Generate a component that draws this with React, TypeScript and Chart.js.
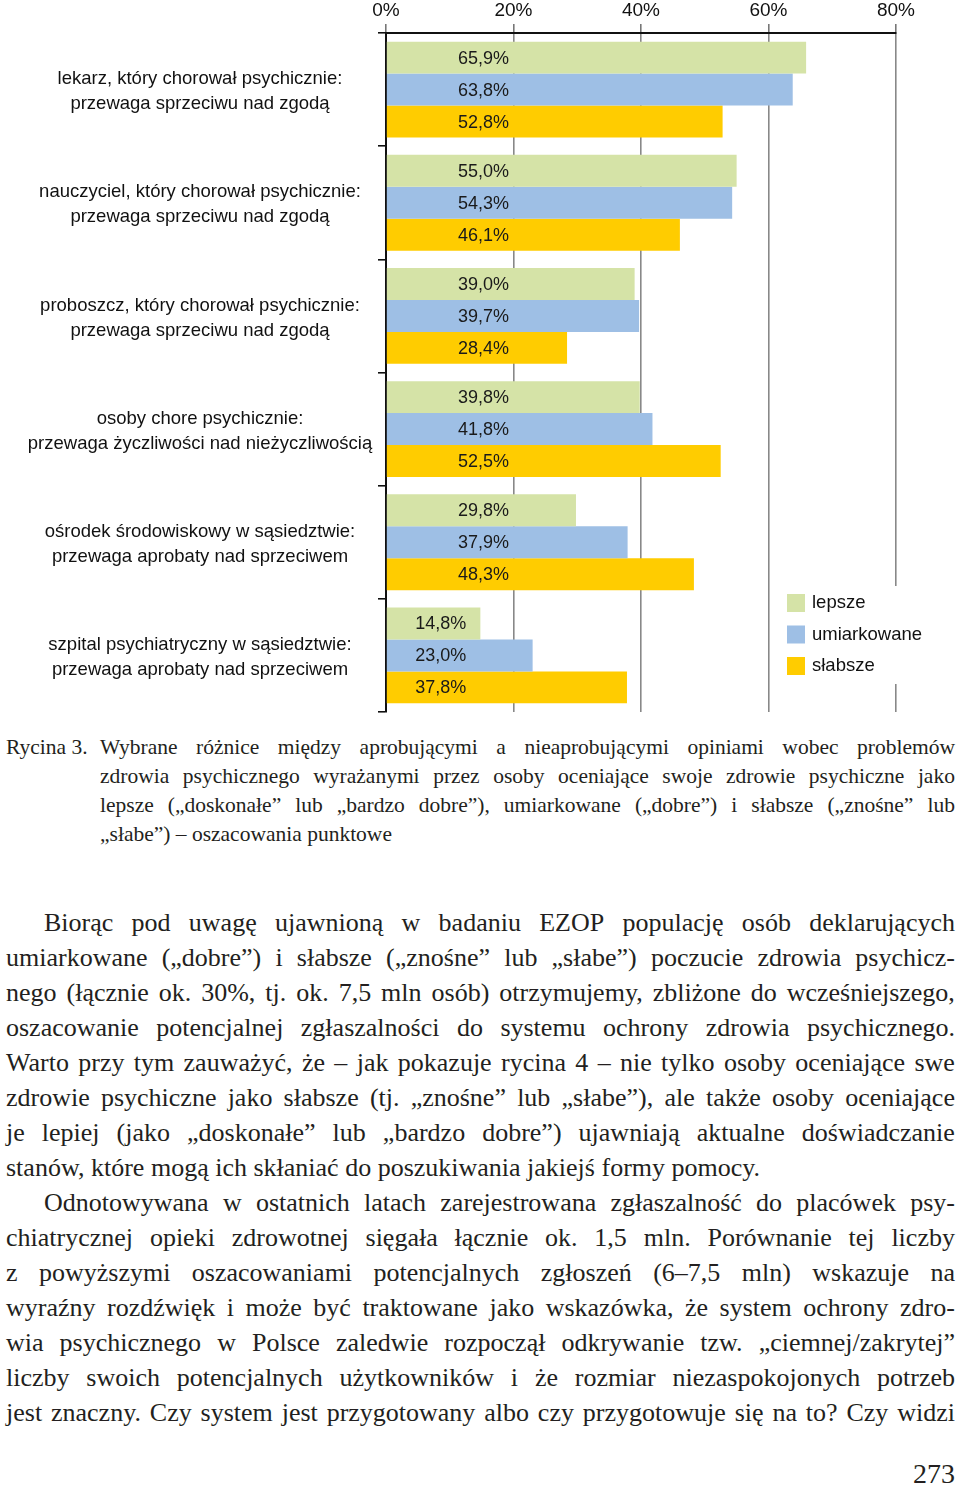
import React, { useEffect, useLayoutEffect, useRef } from "react";
import { Chart, registerables } from "chart.js";

Chart.register(...registerables);

// ---------- data ----------
const categoryLines: string[][] = [
  ["lekarz, który chorował psychicznie:", "przewaga sprzeciwu nad zgodą"],
  ["nauczyciel, który chorował psychicznie:", "przewaga sprzeciwu nad zgodą"],
  ["proboszcz, który chorował psychicznie:", "przewaga sprzeciwu nad zgodą"],
  ["osoby chore psychicznie:", "przewaga życzliwości nad nieżyczliwością"],
  ["ośrodek środowiskowy w sąsiedztwie:", "przewaga aprobaty nad sprzeciwem"],
  ["szpital psychiatryczny w sąsiedztwie:", "przewaga aprobaty nad sprzeciwem"],
];
const seriesNames = ["lepsze", "umiarkowane", "słabsze"];
const lepsze = [65.9, 55.0, 39.0, 39.8, 29.8, 14.8];
const umiarkowane = [63.8, 54.3, 39.7, 41.8, 37.9, 23.0];
const slabsze = [52.8, 46.1, 28.4, 52.5, 48.3, 37.8];
const xTickValues = [0, 20, 40, 60, 80];

const captionLabel = "Rycina 3.";
const captionLines = [
  "Wybrane różnice między aprobującymi a nieaprobującymi opiniami wobec problemów",
  "zdrowia psychicznego wyrażanymi przez osoby oceniające swoje zdrowie psychiczne jako",
  "lepsze („doskonałe” lub „bardzo dobre”), umiarkowane („dobre”) i słabsze („znośne” lub",
  "„słabe”) – oszacowania punktowe",
];
const bodyLines = [
  "Biorąc pod uwagę ujawnioną w badaniu EZOP populację osób deklarujących",
  "umiarkowane („dobre”) i słabsze („znośne” lub „słabe”) poczucie zdrowia psychicz-",
  "nego (łącznie ok. 30%, tj. ok. 7,5 mln osób) otrzymujemy, zbliżone do wcześniejszego,",
  "oszacowanie potencjalnej zgłaszalności do systemu ochrony zdrowia psychicznego.",
  "Warto przy tym zauważyć, że – jak pokazuje rycina 4 – nie tylko osoby oceniające swe",
  "zdrowie psychiczne jako słabsze (tj. „znośne” lub „słabe”), ale także osoby oceniające",
  "je lepiej (jako „doskonałe” lub „bardzo dobre”) ujawniają aktualne doświadczanie",
  "stanów, które mogą ich skłaniać do poszukiwania jakiejś formy pomocy.",
  "Odnotowywana w ostatnich latach zarejestrowana zgłaszalność do placówek psy-",
  "chiatrycznej opieki zdrowotnej sięgała łącznie ok. 1,5 mln. Porównanie tej liczby",
  "z powyższymi oszacowaniami potencjalnych zgłoszeń (6–7,5 mln) wskazuje na",
  "wyraźny rozdźwięk i może być traktowane jako wskazówka, że system ochrony zdro-",
  "wia psychicznego w Polsce zaledwie rozpoczął odkrywanie tzw. „ciemnej/zakrytej”",
  "liczby swoich potencjalnych użytkowników i że rozmiar niezaspokojonych potrzeb",
  "jest znaczny. Czy system jest przygotowany albo czy przygotowuje się na to? Czy widzi",
];
const bodyIndented = [0, 8];
const bodyLastLines = [7];
const pageNumber = "273";

// ---------- styles ----------
const COLORS = ["#d5e3a7", "#9ebfe5", "#ffcc00"];
const SANS = "'Liberation Sans', Arial, sans-serif";
const SERIF = "'Liberation Serif', 'Times New Roman', serif";
const TEXT = "#231f20";

const fmt = (v: number) => v.toFixed(1).replace(".", ",") + "%";

const overlayPlugin = {
  id: "overlay",
  afterDraw(chart: any) {
    const ctx = chart.ctx;
    const x = chart.scales.x;
    const y = chart.scales.y;
    ctx.save();
    // category labels
    ctx.fillStyle = "#111";
    ctx.font = `18.5px ${SANS}`;
    ctx.textAlign = "center";
    ctx.textBaseline = "middle";
    categoryLines.forEach((lines, i) => {
      const cy = y.getPixelForValue(i) + 2;
      lines.forEach((ln, k) => {
        ctx.fillText(ln, 200, cy + (k - (lines.length - 1) / 2) * 25);
      });
    });
    // value labels
    ctx.font = `18px ${SANS}`;
    ctx.fillStyle = "#1a1a1a";
    chart.data.datasets.forEach((ds: any, di: number) => {
      const meta = chart.getDatasetMeta(di);
      meta.data.forEach((bar: any, j: number) => {
        const anchor = j === categoryLines.length - 1 ? 8.6 : 15.3;
        ctx.fillText(fmt(ds.data[j]), x.getPixelForValue(anchor), bar.y + 1);
      });
    });
    // legend
    ctx.fillStyle = "#fff";
    ctx.fillRect(776, 586, 184, 98);
    ctx.font = `18.5px ${SANS}`;
    ctx.textAlign = "left";
    seriesNames.forEach((name, i) => {
      const ty = 603 + i * 31.5;
      ctx.fillStyle = COLORS[i];
      ctx.fillRect(787, ty - 9, 18, 18);
      ctx.fillStyle = "#111";
      ctx.fillText(name, 812, ty);
    });
    ctx.restore();
  },
};

function BarChart() {
  const ref = useRef<HTMLCanvasElement | null>(null);
  useEffect(() => {
    if (!ref.current) return;
    const chart = new Chart(ref.current, {
      type: "bar",
      data: {
        labels: categoryLines.map((l) => l.join(" ")),
        datasets: [lepsze, umiarkowane, slabsze].map((d, i) => ({
          label: seriesNames[i],
          data: d,
          backgroundColor: COLORS[i],
          borderWidth: 0,
          categoryPercentage: 0.847,
          barPercentage: 1,
        })),
      },
      options: {
        indexAxis: "y",
        responsive: false,
        animation: false,
        layout: { padding: { left: 0, right: 64, top: 0, bottom: 4 } },
        plugins: { legend: { display: false }, tooltip: { enabled: false } },
        scales: {
          x: {
            position: "top",
            min: 0,
            max: 80,
            afterBuildTicks: (s: any) => {
              s.ticks = xTickValues.map((v) => ({ value: v }));
            },
            afterFit: (s: any) => {
              s.height = 33;
            },
            ticks: {
              callback: (v: any) => v + "%",
              font: { family: SANS, size: 19 },
              color: "#111",
              padding: 2,
              maxRotation: 0,
            },
            grid: {
              color: "#888888",
              lineWidth: 1.6,
              tickLength: 9,
              tickColor: "#777777",
            },
            border: { display: true, color: "#111", width: 2 },
          },
          y: {
            afterFit: (s: any) => {
              s.width = 386;
            },
            ticks: { display: false },
            grid: {
              drawOnChartArea: false,
              offset: true,
              tickLength: 8,
              tickColor: "#111",
              color: "#111",
              lineWidth: 1.6,
            },
            border: { display: true, color: "#111", width: 2 },
          },
        },
      },
      plugins: [overlayPlugin],
    } as any);
    return () => chart.destroy();
  }, []);
  return <canvas ref={ref} width={960} height={716} style={{ display: "block" }} />;
}

function Line({
  text,
  justify,
  indent,
  height,
}: {
  text: string;
  justify: boolean;
  indent: number;
  height: number;
}) {
  const words = text.split(" ");
  return (
    <div
      className="jline"
      style={{
        display: "flex",
        justifyContent: justify ? "space-between" : "flex-start",
        columnGap: justify ? "0.18em" : "0.25em",
        paddingLeft: indent,
        whiteSpace: "nowrap",
        height,
        lineHeight: height + "px",
        transformOrigin: "left center",
      }}
    >
      {words.map((w, i) => (
        <span key={i}>{w}</span>
      ))}
    </div>
  );
}

export default function App() {
  const rootRef = useRef<HTMLDivElement | null>(null);
  useLayoutEffect(() => {
    const root = rootRef.current;
    if (!root) return;
    root.querySelectorAll<HTMLDivElement>(".jline").forEach((el) => {
      const sw = el.scrollWidth;
      const cw = el.clientWidth;
      if (sw > cw + 0.5) {
        el.style.width = sw + "px";
        el.style.transform = `scaleX(${cw / sw})`;
      }
    });
  }, []);
  return (
    <div
      ref={rootRef}
      style={{
        position: "absolute",
        left: 0,
        top: 0,
        width: 960,
        height: 1486,
        background: "#fff",
        color: TEXT,
        overflow: "hidden",
      }}
    >
      <BarChart />
      {/* caption */}
      <div
        style={{
          position: "absolute",
          left: 6,
          top: 733,
          width: 949,
          fontFamily: SERIF,
          fontSize: 21.5,
        }}
      >
        <div style={{ position: "absolute", left: 0, top: 0, lineHeight: "29px" }}>{captionLabel}</div>
        <div style={{ marginLeft: 94, width: 855 }}>
          {captionLines.map((t, i) => (
            <Line key={i} text={t} justify={i < captionLines.length - 1} indent={0} height={29} />
          ))}
        </div>
      </div>
      {/* body */}
      <div
        style={{
          position: "absolute",
          left: 6,
          top: 905,
          width: 949,
          fontFamily: SERIF,
          fontSize: 26,
        }}
      >
        {bodyLines.map((t, i) => (
          <Line
            key={i}
            text={t}
            justify={!bodyLastLines.includes(i)}
            indent={bodyIndented.includes(i) ? 38 : 0}
            height={35}
          />
        ))}
      </div>
      <div
        style={{
          position: "absolute",
          right: 5,
          top: 1456,
          fontFamily: SERIF,
          fontSize: 28,
          lineHeight: "36px",
        }}
      >
        {pageNumber}
      </div>
    </div>
  );
}
